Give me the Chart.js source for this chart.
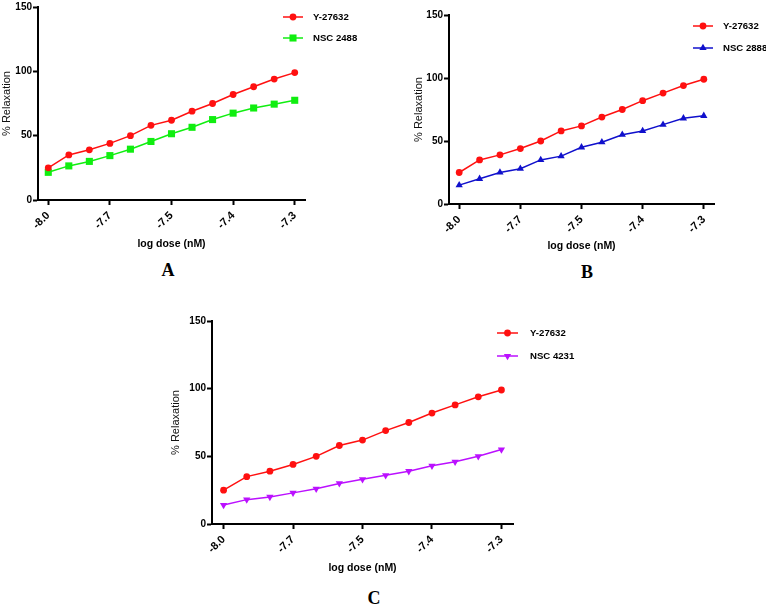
<!DOCTYPE html>
<html>
<head>
<meta charset="utf-8">
<script src="https://cdn.jsdelivr.net/npm/chart.js@4.4.1/dist/chart.umd.min.js"></script>
<style>
  html, body { margin: 0; padding: 0; background: #fff; }
  body { width: 766px; height: 605px; position: relative; overflow: hidden; font-family: "Liberation Sans", Arial, sans-serif; }
  canvas { position: absolute; }
  .panel-letter { position: absolute; font-family: "Liberation Serif", "Times New Roman", serif; font-weight: bold; font-size: 18px; color: #000; transform: translate(-50%, -50%); line-height: 1; }
</style>
</head>
<body>
<canvas id="chartA" width="380" height="250" style="left:0px;top:0px;"></canvas>
<canvas id="chartB" width="386" height="252" style="left:380px;top:0px;"></canvas>
<canvas id="chartC" width="450" height="274" style="left:140px;top:300px;"></canvas>
<div class="panel-letter" style="left:168px;top:270px;">A</div>
<div class="panel-letter" style="left:587px;top:272px;">B</div>
<div class="panel-letter" style="left:374px;top:598px;">C</div>
<script>
// ---- data ----
const doseLabels = ['-8.0', '', '', '-7.7', '', '', '-7.5', '', '', '-7.4', '', '', '-7.3'];
const yTicks = [0, 50, 100, 150];
const y27632 = [25, 35, 39, 44, 50, 58, 62, 69, 75, 82, 88, 94, 99];
const nsc2488 = [21.5, 26.5, 30, 34.5, 39.5, 45.5, 51.5, 56.5, 62.5, 67.5, 71.5, 74.5, 77.5];
const nsc2888 = [15, 20, 25, 28, 35, 38, 45, 49, 55, 58, 63, 68, 70];
const nsc4231 = [14, 18, 20, 23, 26, 30, 33, 36, 39, 43, 46, 50, 55];

const FONT = '"Liberation Sans", Arial, sans-serif';

function drawMarker(ctx, style, x, y, r, rot, color) {
  ctx.save();
  ctx.fillStyle = color;
  ctx.beginPath();
  if (style === 'circle') {
    ctx.arc(x, y, r, 0, Math.PI * 2);
  } else if (style === 'rect') {
    const s = r * Math.SQRT2 / 2;
    ctx.rect(x - s, y - s, 2 * s, 2 * s);
  } else if (style === 'triangle') {
    ctx.translate(x, y);
    ctx.rotate((rot || 0) * Math.PI / 180);
    ctx.moveTo(0, -r);
    ctx.lineTo(r * Math.sin(Math.PI / 3) , r * 0.5);
    ctx.lineTo(-r * Math.sin(Math.PI / 3), r * 0.5);
    ctx.closePath();
  }
  ctx.fill();
  ctx.restore();
}

const legendPlugin = {
  id: 'lineLegend',
  afterDraw(chart, args, opts) {
    const ctx = chart.ctx;
    chart.data.datasets.forEach((ds, i) => {
      const y = opts.y0 + i * opts.dy;
      ctx.save();
      ctx.strokeStyle = ds.borderColor;
      ctx.lineWidth = ds.borderWidth;
      ctx.beginPath();
      ctx.moveTo(opts.x0, y);
      ctx.lineTo(opts.x0 + opts.len, y);
      ctx.stroke();
      ctx.restore();
      drawMarker(ctx, ds.pointStyle, opts.x0 + opts.len / 2, y, ds.pointRadius, ds.pointRotation, ds.pointBackgroundColor);
      ctx.save();
      ctx.fillStyle = '#000';
      ctx.font = 'bold 9.6px ' + FONT;
      ctx.textBaseline = 'middle';
      ctx.textAlign = 'left';
      ctx.fillText(ds.label, opts.textX, y);
      ctx.restore();
    });
  }
};

function series(label, data, color, style, radius, rot) {
  return {
    label: label, data: data,
    borderColor: color, backgroundColor: color,
    pointBackgroundColor: color, pointBorderColor: color,
    borderWidth: 1.5, pointStyle: style, pointRadius: radius, pointRotation: rot || 0,
    pointBorderWidth: 0, tension: 0, fill: false
  };
}

function makeChart(id, datasets, lay) {
  return new Chart(document.getElementById(id), {
    type: 'line',
    data: { labels: doseLabels, datasets: datasets },
    plugins: [legendPlugin],
    options: {
      responsive: false,
      animation: false,
      devicePixelRatio: 1,
      layout: { padding: { left: lay.padLeft, top: lay.padTop, right: lay.padRight, bottom: 0 } },
      plugins: {
        legend: { display: false },
        tooltip: { enabled: false },
        lineLegend: lay.legend
      },
      scales: {
        x: {
          type: 'category',
          offset: true,
          afterBuildTicks: (scale) => { scale.ticks = scale.ticks.filter(t => doseLabels[t.value] !== ''); },
          afterFit: (scale) => { scale.height = lay.xHeight; },
          grid: { display: true, drawOnChartArea: false, drawTicks: true, tickLength: 5, tickWidth: 2, tickColor: '#000', offset: false },
          border: { display: true, color: '#000', width: 2 },
          ticks: { autoSkip: false, minRotation: 45, maxRotation: 45, padding: 4, color: '#000', font: { family: FONT, size: 11, weight: 'bold' } },
          title: { display: true, text: 'log dose (nM)', color: '#000', padding: 0, font: { family: FONT, size: 10.5, weight: 'bold' } }
        },
        y: {
          min: 0, max: 150,
          afterBuildTicks: (scale) => { scale.ticks = yTicks.map(v => ({ value: v })); },
          afterFit: (scale) => { scale.width = lay.yWidth; },
          grid: { display: true, drawOnChartArea: false, drawTicks: true, tickLength: 5, tickWidth: 2, tickColor: '#000' },
          border: { display: true, color: '#000', width: 2 },
          ticks: { padding: 1, color: '#000', font: { family: FONT, size: 10, weight: 'bold' } },
          title: { display: true, text: '% Relaxation', color: '#111', padding: 0, font: { family: FONT, size: 11, weight: 'normal' } }
        }
      }
    }
  });
}

makeChart('chartA', [
  series('Y-27632', y27632, '#ff1010', 'circle', 3.4),
  series('NSC 2488', nsc2488, '#10ee10', 'rect', 5)
], { padLeft: 0, padTop: 5, padRight: 75, yWidth: 38, xHeight: 50,
     legend: { x0: 283, len: 20, textX: 313, y0: 17, dy: 21 } });

makeChart('chartB', [
  series('Y-27632', y27632, '#ff1010', 'circle', 3.4),
  series('NSC 2888', nsc2888, '#1010cc', 'triangle', 4.2)
], { padLeft: 32, padTop: 15, padRight: 52, yWidth: 37, xHeight: 48,
     legend: { x0: 313, len: 20, textX: 343, y0: 26, dy: 22 } });

makeChart('chartC', [
  series('Y-27632', y27632, '#ff1010', 'circle', 3.4),
  series('NSC 4231', nsc4231, '#bb10ff', 'triangle', 4.2, 180)
], { padLeft: 29, padTop: 21, padRight: 77, yWidth: 43, xHeight: 50,
     legend: { x0: 357, len: 21, textX: 390, y0: 33, dy: 23 } });
</script>
</body>
</html>
